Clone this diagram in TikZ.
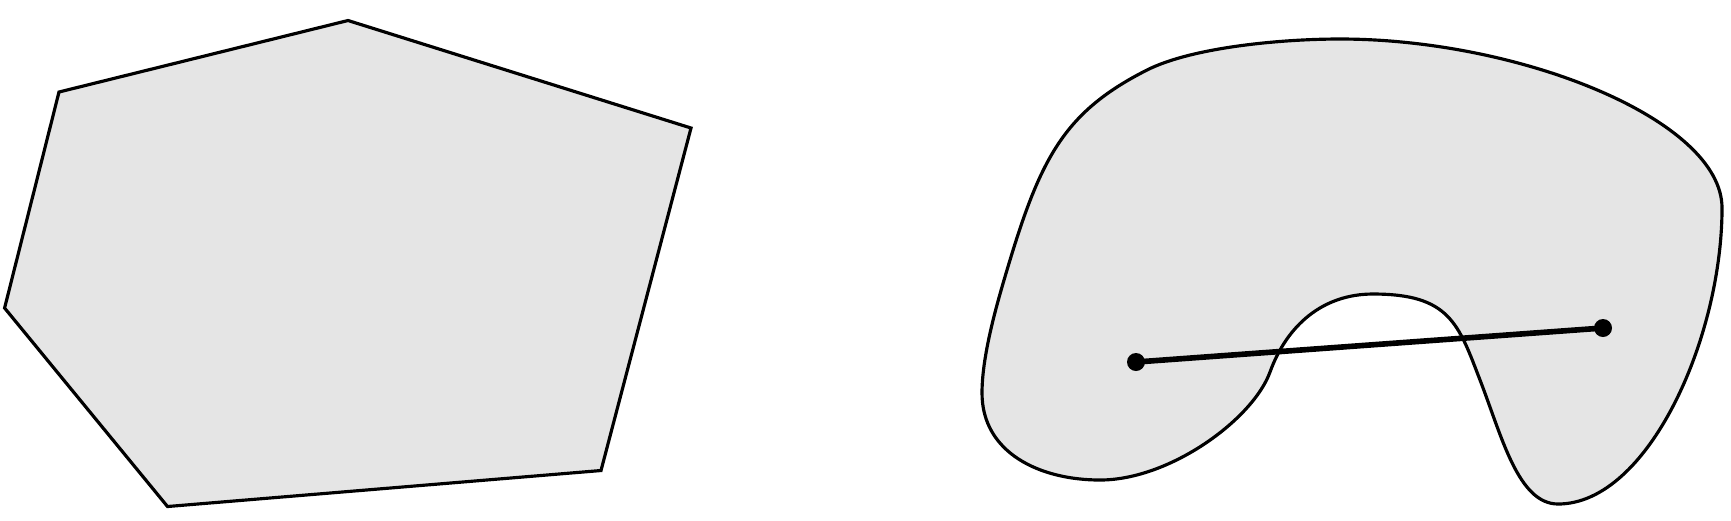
\documentclass[tikz,border=0pt]{standalone}
\begin{document}
\begin{tikzpicture}[x=0.01cm,y=-0.01cm,
  shape outline/.style={draw=black,fill=black!10,line width=0.9pt},
  dot/.style={circle,fill=black,inner sep=0pt,minimum size=0.18cm},
  segment/.style={line width=1.6pt}]
\useasboundingbox (0,0) rectangle (1731,520);
% convex polygon
\draw[shape outline] (59,92) -- (348,20.5) -- (691,128) -- (601,470.5) -- (167.5,506.5) -- (4.6,308) -- cycle;
% non-convex blob
\draw[shape outline]
  (1340,39)
  .. controls (1520,39) and (1722,120) .. (1722,208)
  .. controls (1722,338) and (1648,504) .. (1558,504)
  .. controls (1518,504) and (1501.6,435.8) .. (1480,380)
  .. controls (1458.4,324.2) and (1450,294) .. (1373,294)
  .. controls (1323,294) and (1287,325) .. (1270,372)
  .. controls (1253,419) and (1170,480) .. (1100,480)
  .. controls (1040,480) and (982,453) .. (982,393)
  .. controls (982,353) and (998.4,298.4) .. (1010,260)
  .. controls (1042,154.4) and (1067,110.5) .. (1147,70)
  .. controls (1191.5,47.5) and (1280,39) .. (1340,39)
  -- cycle;
\node[dot] (a) at (1136,362) {};
\node[dot] (b) at (1603,328) {};
\draw[segment] (a.center) -- (b.center);
\end{tikzpicture}
\end{document}
